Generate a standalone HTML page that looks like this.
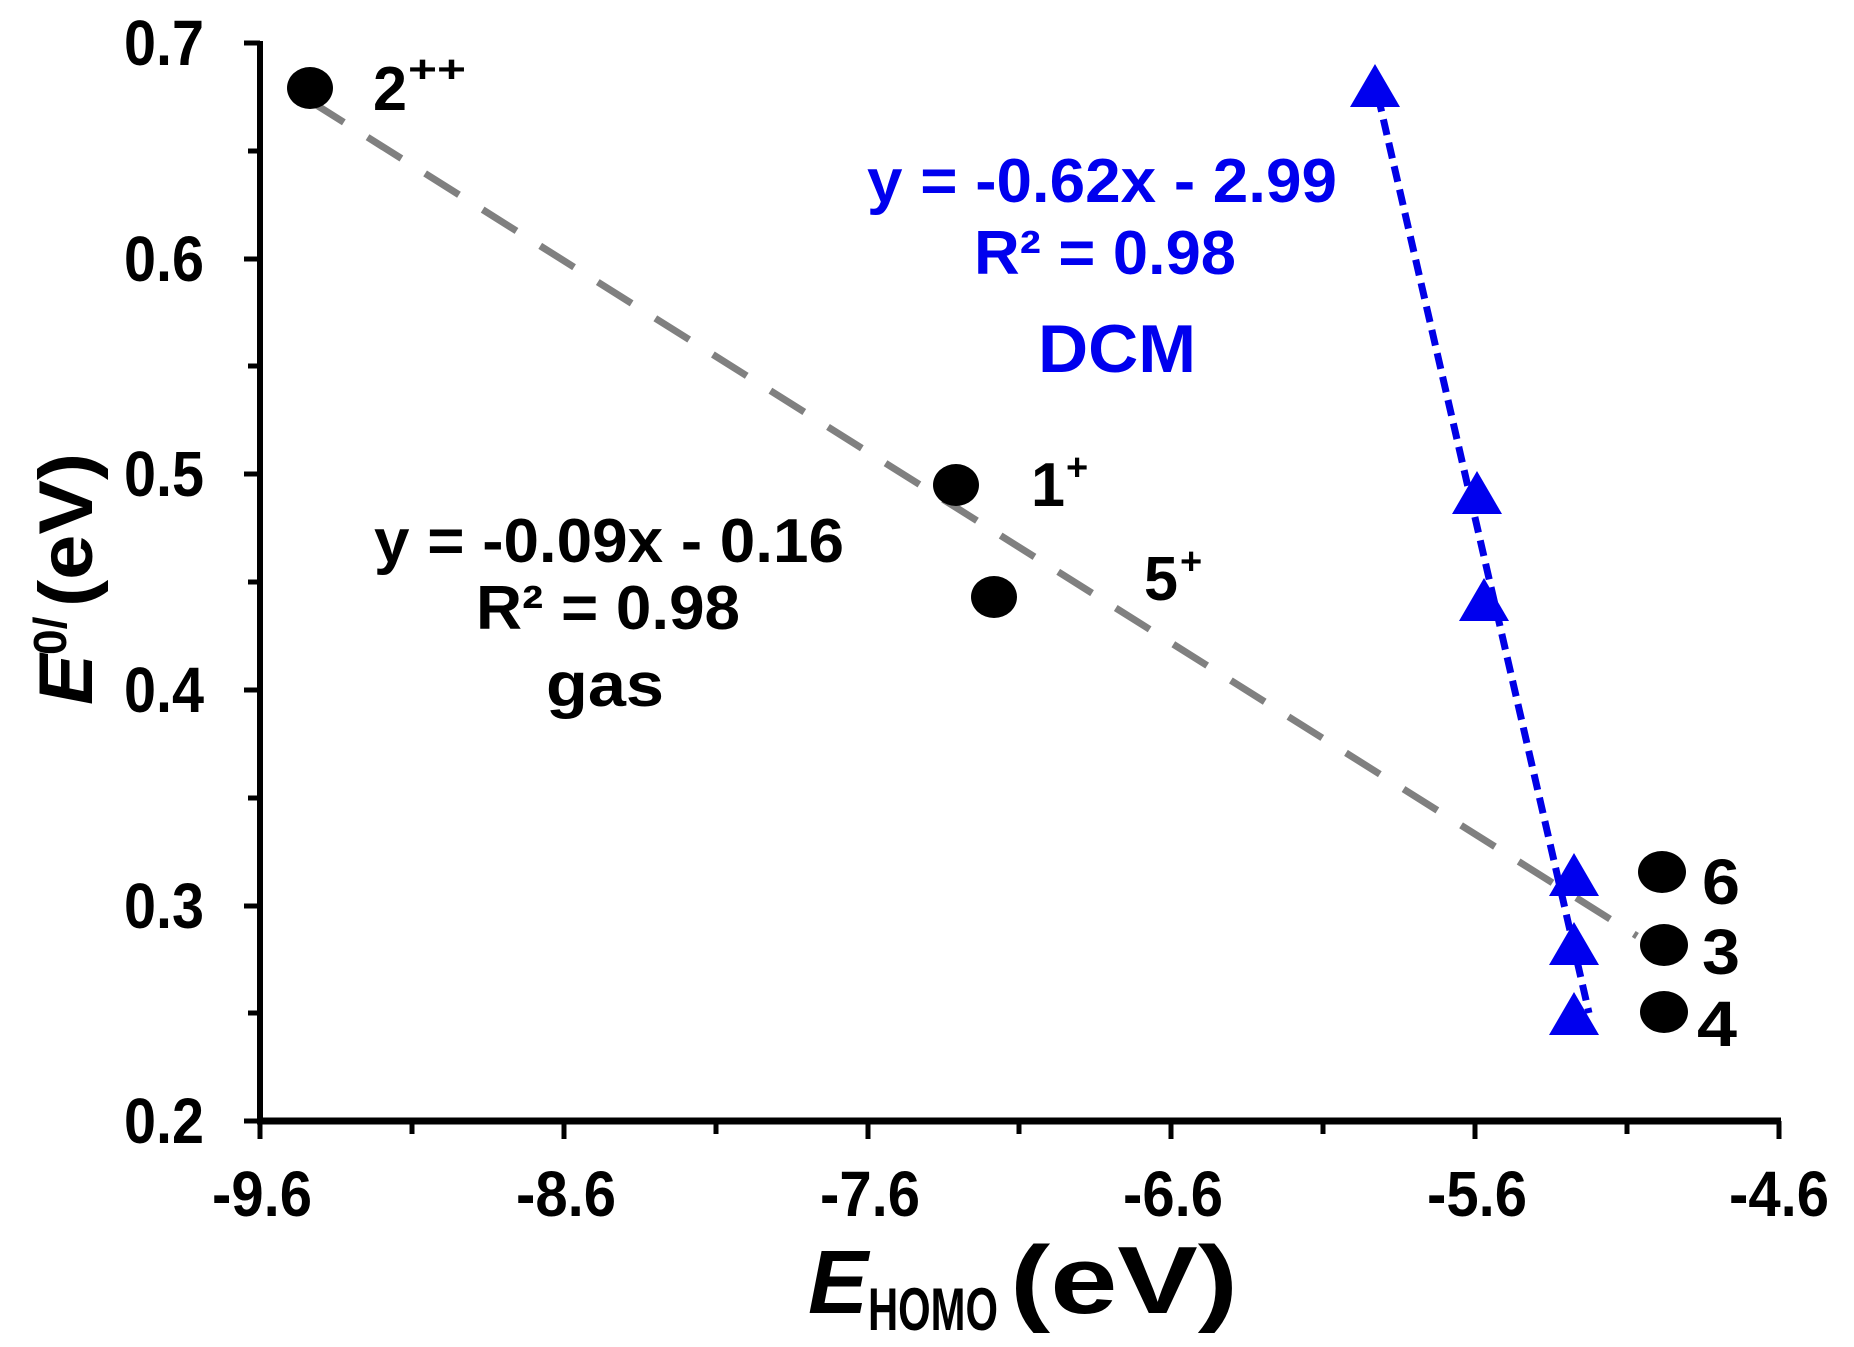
<!DOCTYPE html>
<html><head><meta charset="utf-8"><style>
html,body{margin:0;padding:0;background:#fff;}
svg{display:block;}
text{font-family:"Liberation Sans",Arial,sans-serif;font-weight:bold;}
</style></head><body>
<svg width="1854" height="1347" viewBox="0 0 1854 1347" xmlns="http://www.w3.org/2000/svg">
<rect width="1854" height="1347" fill="#fff"/>
<line x1="260" y1="41" x2="260" y2="1123" stroke="#000" stroke-width="6"/>
<line x1="257" y1="1121" x2="1781" y2="1121" stroke="#000" stroke-width="7"/>
<g stroke="#000" stroke-width="5">
<line x1="244" y1="43" x2="260" y2="43"/><line x1="248" y1="151" x2="260" y2="151"/>
<line x1="244" y1="259" x2="260" y2="259"/><line x1="248" y1="366" x2="260" y2="366"/>
<line x1="244" y1="474" x2="260" y2="474"/><line x1="248" y1="582" x2="260" y2="582"/>
<line x1="244" y1="690" x2="260" y2="690"/><line x1="248" y1="798" x2="260" y2="798"/>
<line x1="244" y1="906" x2="260" y2="906"/><line x1="248" y1="1013" x2="260" y2="1013"/>
<line x1="244" y1="1121" x2="260" y2="1121"/>
<line x1="260" y1="1121" x2="260" y2="1139"/><line x1="412" y1="1121" x2="412" y2="1134"/>
<line x1="564" y1="1121" x2="564" y2="1139"/><line x1="716" y1="1121" x2="716" y2="1134"/>
<line x1="868" y1="1121" x2="868" y2="1139"/><line x1="1019" y1="1121" x2="1019" y2="1134"/>
<line x1="1171" y1="1121" x2="1171" y2="1139"/><line x1="1323" y1="1121" x2="1323" y2="1134"/>
<line x1="1475" y1="1121" x2="1475" y2="1139"/><line x1="1627" y1="1121" x2="1627" y2="1134"/>
<line x1="1779" y1="1121" x2="1779" y2="1139"/>
</g>
<g font-size="64" text-anchor="end">
<text x="204" y="65" textLength="80" lengthAdjust="spacingAndGlyphs">0.7</text>
<text x="204" y="281" textLength="80" lengthAdjust="spacingAndGlyphs">0.6</text>
<text x="204" y="496" textLength="80" lengthAdjust="spacingAndGlyphs">0.5</text>
<text x="204" y="712" textLength="80" lengthAdjust="spacingAndGlyphs">0.4</text>
<text x="204" y="928" textLength="80" lengthAdjust="spacingAndGlyphs">0.3</text>
<text x="204" y="1143" textLength="80" lengthAdjust="spacingAndGlyphs">0.2</text>
</g>
<g font-size="64" text-anchor="middle">
<text x="262" y="1216" textLength="100" lengthAdjust="spacingAndGlyphs">-9.6</text>
<text x="566" y="1216" textLength="100" lengthAdjust="spacingAndGlyphs">-8.6</text>
<text x="870" y="1216" textLength="100" lengthAdjust="spacingAndGlyphs">-7.6</text>
<text x="1173" y="1216" textLength="100" lengthAdjust="spacingAndGlyphs">-6.6</text>
<text x="1477" y="1216" textLength="100" lengthAdjust="spacingAndGlyphs">-5.6</text>
<text x="1779" y="1216" textLength="100" lengthAdjust="spacingAndGlyphs">-4.6</text>
</g>
<text x="808" y="1313" font-size="90" font-style="italic">E</text>
<text x="868" y="1330" font-size="60" textLength="130" lengthAdjust="spacingAndGlyphs">HOMO</text>
<text x="1010" y="1313" font-size="96" textLength="228" lengthAdjust="spacingAndGlyphs">(eV)</text>
<g transform="translate(92,705) rotate(-90)">
<text x="0" y="0" font-size="76" font-style="italic">E</text>
<text x="50" y="-26" font-size="46">0/</text>
<text x="98" y="0" font-size="76" textLength="154" lengthAdjust="spacingAndGlyphs">(eV)</text>
</g>
<line x1="310" y1="101" x2="1637" y2="936" stroke="#808080" stroke-width="7" stroke-dasharray="40,28"/>
<line x1="1378" y1="96" x2="1589" y2="1013" stroke="#0000e6" stroke-width="7" stroke-dasharray="16,8"/>
<g fill="#000">
<ellipse cx="310" cy="88" rx="23" ry="21"/>
<ellipse cx="956" cy="485" rx="23" ry="21"/>
<ellipse cx="994" cy="597" rx="23" ry="21"/>
<ellipse cx="1662" cy="872" rx="24" ry="21"/>
<ellipse cx="1664" cy="945" rx="24" ry="21"/>
<ellipse cx="1664" cy="1012" rx="24" ry="21"/>
</g>
<g fill="#0000ee">
<polygon points="1375,64 1350,107 1400,107"/>
<polygon points="1477,471 1452,514 1502,514"/>
<polygon points="1484,578 1459,621 1509,621"/>
<polygon points="1574,853 1549,896 1599,896"/>
<polygon points="1574,922 1549,965 1599,965"/>
<polygon points="1574,992 1549,1035 1599,1035"/>
</g>
<g font-size="62">
<text x="373" y="110" textLength="34" lengthAdjust="spacingAndGlyphs">2</text><text x="408" y="82" font-size="38" textLength="58" lengthAdjust="spacingAndGlyphs">++</text>
<text x="1031" y="506" textLength="34" lengthAdjust="spacingAndGlyphs">1</text><text x="1066" y="480" font-size="38">+</text>
<text x="1144" y="600" textLength="34" lengthAdjust="spacingAndGlyphs">5</text><text x="1180" y="574" font-size="38">+</text>
<text x="1702" y="904" font-size="64" textLength="38" lengthAdjust="spacingAndGlyphs">6</text>
<text x="1702" y="974" font-size="64" textLength="38" lengthAdjust="spacingAndGlyphs">3</text>
<text x="1697" y="1046" font-size="64" textLength="40" lengthAdjust="spacingAndGlyphs">4</text>
</g>
<g font-size="62" text-anchor="middle">
<text x="609" y="562" textLength="470" lengthAdjust="spacingAndGlyphs">y = -0.09x - 0.16</text>
<text x="608" y="629" textLength="264" lengthAdjust="spacingAndGlyphs">R² = 0.98</text>
<text x="605" y="706" textLength="118" lengthAdjust="spacingAndGlyphs">gas</text>
</g>
<g font-size="62" text-anchor="middle" fill="#0000ee">
<text x="1102" y="202" textLength="470" lengthAdjust="spacingAndGlyphs">y = -0.62x - 2.99</text>
<text x="1105" y="274" textLength="262" lengthAdjust="spacingAndGlyphs">R² = 0.98</text>
<text x="1117" y="372" font-size="68" textLength="158" lengthAdjust="spacingAndGlyphs">DCM</text>
</g>
</svg>
</body></html>
